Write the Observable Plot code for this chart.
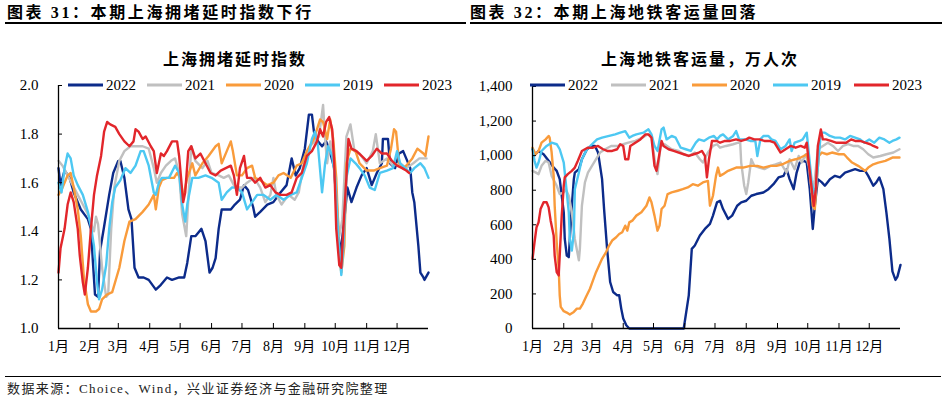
<!DOCTYPE html>
<html><head><meta charset="utf-8">
<script src="https://cdn.jsdelivr.net/npm/d3@7"></script>
<script src="https://cdn.jsdelivr.net/npm/@observablehq/plot@0.6"></script>
<style>
body{margin:0;background:#fff;}
#wrap{position:relative;width:946px;height:398px;overflow:hidden;background:#fff;color:#000;font-family:"Liberation Serif","Noto Sans CJK SC",serif;}
.abs{position:absolute;white-space:nowrap;}
.title{font-weight:bold;font-size:16px;line-height:16px;letter-spacing:2.6px;}
.sub{font-weight:bold;font-size:16px;line-height:16px;letter-spacing:2px;transform:translateX(-50%);}
.rule{position:absolute;background:#000;}
.legend{position:absolute;display:flex;align-items:center;font-size:15px;line-height:15px;transform:translateY(-50%);}
.legend .it{display:flex;align-items:center;}
.legend .sw{width:35px;height:3px;margin-right:3px;}
.foot{font-size:13px;line-height:13px;letter-spacing:1.4px;color:#222;}
</style></head><body><div id="wrap">
<div class="abs title" style="left:7px;top:5px;">图表 31：本期上海拥堵延时指数下行</div>
<div class="abs title" style="left:470px;top:5px;">图表 32：本期上海地铁客运量回落</div>
<div class="rule" style="left:5px;top:22px;width:461px;height:1.5px;"></div>
<div class="rule" style="left:470px;top:22px;width:472px;height:1.5px;"></div>
<div class="abs sub" style="left:235px;top:52px;">上海拥堵延时指数</div>
<div class="abs sub" style="left:700px;top:52px;">上海地铁客运量，万人次</div>
<div id="c1" class="abs" style="left:0;top:70px;"></div>
<div id="c2" class="abs" style="left:470px;top:70px;"></div>
<div id="lg1" class="legend" style="left:68px;top:85px;"></div>
<div id="lg2" class="legend" style="left:530px;top:85px;"></div>
<div class="rule" style="left:5px;top:376px;width:936px;height:1px;"></div>
<div class="abs foot" style="left:7px;top:382px;">数据来源：Choice、Wind，兴业证券经济与金融研究院整理</div>
</div>
<script>
const monthTicks = [1,32,60,91,121,152,182,213,244,274,305,335];
const monthLabels = ["1月","2月","3月","4月","5月","6月","7月","8月","9月","10月","11月","12月"];
const yearNames = ["2022","2021","2020","2019","2023"];
const yearColors = ["#0c2b8a","#c0c0c0","#f99b3b","#4dc8f2","#e2262b"];
const congTicks = [1.0,1.2,1.4,1.6,1.8,2.0];
const metroTicks = [0,200,400,600,800,1000,1200,1400];

// 上海拥堵延时指数 [day of year, value]
const cong2022 = [[1,1.66],[3,1.59],[7,1.65],[12,1.62],[16,1.56],[23,1.49],[30,1.45],[33,1.41],[35,1.27],[37,1.14],[40,1.13],[42,1.32],[46,1.42],[51,1.55],[55,1.64],[60,1.69],[62,1.69],[66,1.62],[70,1.49],[73,1.45],[76,1.25],[80,1.21],[85,1.21],[90,1.20],[97,1.16],[102,1.18],[108,1.21],[113,1.20],[120,1.21],[125,1.21],[128,1.27],[132,1.38],[136,1.38],[142,1.41],[146,1.36],[150,1.23],[153,1.25],[156,1.29],[159,1.41],[162,1.49],[166,1.49],[171,1.49],[175,1.51],[180,1.53],[184,1.59],[188,1.57],[193,1.50],[195,1.46],[200,1.48],[207,1.51],[213,1.52],[220,1.56],[226,1.59],[231,1.70],[235,1.63],[239,1.66],[244,1.74],[248,1.88],[251,1.88],[253,1.81],[257,1.77],[261,1.75],[265,1.77],[268,1.74],[273,1.66],[276,1.45],[279,1.30],[283,1.45],[286,1.58],[290,1.52],[295,1.58],[300,1.63],[305,1.66],[310,1.59],[315,1.64],[320,1.68],[321,1.78],[326,1.78],[328,1.68],[333,1.66],[337,1.72],[341,1.73],[344,1.70],[348,1.66],[350,1.56],[352,1.52],[356,1.34],[358,1.23],[361,1.21],[362,1.20],[366,1.23]];
const cong2021 = [[1,1.69],[5,1.67],[10,1.63],[15,1.59],[20,1.55],[25,1.51],[30,1.47],[34,1.42],[36,1.40],[38,1.46],[40,1.43],[44,1.25],[48,1.13],[50,1.14],[53,1.41],[56,1.58],[61,1.69],[66,1.73],[72,1.75],[77,1.75],[84,1.75],[90,1.74],[95,1.66],[98,1.60],[102,1.64],[107,1.67],[112,1.69],[116,1.70],[120,1.64],[123,1.47],[127,1.38],[130,1.60],[132,1.75],[136,1.69],[143,1.66],[148,1.69],[152,1.64],[159,1.63],[164,1.62],[169,1.63],[174,1.59],[179,1.58],[182,1.58],[187,1.60],[194,1.62],[200,1.58],[205,1.52],[210,1.55],[213,1.62],[216,1.55],[221,1.51],[228,1.55],[234,1.53],[238,1.56],[243,1.68],[249,1.75],[254,1.77],[258,1.79],[262,1.92],[264,1.78],[266,1.68],[269,1.77],[272,1.70],[275,1.55],[278,1.38],[281,1.45],[285,1.79],[289,1.84],[293,1.73],[298,1.72],[305,1.68],[311,1.73],[314,1.80],[318,1.68],[325,1.70],[331,1.67],[338,1.68],[344,1.66],[351,1.68],[357,1.70],[364,1.70]];
const cong2020 = [[1,1.55],[5,1.58],[10,1.63],[13,1.64],[16,1.58],[20,1.49],[23,1.38],[26,1.21],[30,1.10],[33,1.07],[38,1.07],[41,1.08],[44,1.12],[49,1.14],[54,1.15],[61,1.25],[66,1.36],[71,1.44],[77,1.45],[84,1.48],[90,1.51],[95,1.55],[97,1.49],[100,1.58],[103,1.61],[108,1.62],[115,1.62],[118,1.64],[121,1.62],[123,1.52],[128,1.62],[133,1.68],[136,1.63],[143,1.68],[149,1.71],[156,1.75],[159,1.76],[162,1.68],[167,1.73],[171,1.77],[173,1.73],[177,1.63],[182,1.63],[187,1.66],[192,1.67],[195,1.62],[200,1.61],[207,1.59],[213,1.60],[218,1.63],[223,1.64],[230,1.62],[236,1.67],[241,1.68],[246,1.73],[253,1.78],[259,1.86],[262,1.85],[266,1.78],[269,1.86],[272,1.78],[275,1.62],[278,1.30],[280,1.23],[283,1.34],[285,1.68],[289,1.74],[294,1.73],[298,1.68],[305,1.65],[312,1.65],[318,1.66],[325,1.67],[329,1.74],[332,1.82],[334,1.81],[337,1.68],[341,1.66],[344,1.67],[350,1.70],[355,1.74],[361,1.72],[363,1.71],[366,1.79]];
const cong2019 = [[1,1.60],[4,1.56],[7,1.66],[10,1.72],[13,1.70],[16,1.63],[20,1.59],[25,1.55],[30,1.48],[33,1.42],[36,1.34],[39,1.19],[41,1.12],[44,1.16],[48,1.26],[51,1.41],[54,1.52],[57,1.58],[62,1.61],[67,1.66],[72,1.64],[77,1.67],[82,1.73],[85,1.73],[90,1.67],[95,1.56],[97,1.55],[100,1.60],[103,1.62],[110,1.62],[116,1.67],[120,1.64],[123,1.51],[126,1.44],[128,1.51],[133,1.62],[139,1.62],[146,1.63],[152,1.62],[159,1.60],[162,1.53],[167,1.56],[172,1.58],[177,1.58],[182,1.56],[187,1.49],[192,1.52],[197,1.55],[203,1.55],[210,1.53],[216,1.55],[223,1.53],[230,1.55],[236,1.56],[241,1.62],[246,1.68],[251,1.78],[254,1.81],[257,1.75],[261,1.56],[264,1.68],[267,1.75],[271,1.71],[274,1.62],[277,1.38],[280,1.22],[282,1.34],[285,1.62],[289,1.70],[294,1.68],[298,1.66],[303,1.63],[308,1.58],[313,1.57],[318,1.64],[325,1.65],[331,1.66],[335,1.73],[338,1.68],[343,1.66],[348,1.64],[352,1.66],[358,1.68],[362,1.66],[366,1.62]];
const cong2023 = [[1,1.23],[3,1.33],[7,1.41],[10,1.51],[13,1.56],[16,1.52],[20,1.41],[22,1.30],[25,1.19],[27,1.14],[30,1.25],[33,1.41],[36,1.55],[39,1.63],[43,1.71],[46,1.81],[49,1.85],[52,1.84],[57,1.83],[61,1.80],[66,1.77],[71,1.75],[75,1.77],[77,1.82],[80,1.81],[84,1.78],[87,1.79],[92,1.75],[95,1.73],[98,1.64],[102,1.72],[105,1.71],[108,1.73],[113,1.77],[118,1.77],[120,1.71],[124,1.52],[126,1.56],[129,1.73],[132,1.75],[136,1.70],[141,1.72],[146,1.68],[151,1.64],[156,1.63],[161,1.65],[166,1.66],[171,1.67],[174,1.63],[177,1.55],[180,1.66],[184,1.71],[187,1.62],[191,1.62],[195,1.60],[200,1.62],[205,1.58],[210,1.59],[215,1.56],[220,1.55],[226,1.55],[231,1.56],[236,1.62],[241,1.64],[246,1.71],[251,1.73],[256,1.77],[259,1.82],[262,1.79],[265,1.85],[268,1.87],[271,1.82],[273,1.68],[275,1.41],[278,1.26],[280,1.25],[282,1.41],[285,1.62],[287,1.78],[290,1.74],[295,1.73],[300,1.71],[305,1.69],[310,1.71],[315,1.74],[320,1.72],[325,1.72],[330,1.69],[335,1.67],[340,1.66],[344,1.65],[347,1.64]];

// 上海地铁客运量，万人次 [day of year, value]
const metro2022 = [[1,1037],[4,1008],[7,1027],[12,1008],[17,970],[22,931],[25,912],[28,864],[30,768],[32,672],[33,518],[35,422],[37,413],[38,518],[40,710],[42,864],[43,902],[47,922],[50,979],[55,1037],[60,1056],[63,1056],[66,1018],[70,864],[72,691],[75,461],[78,269],[81,211],[85,192],[87,192],[89,115],[91,58],[94,19],[97,0],[151,0],[154,115],[156,192],[159,461],[162,480],[167,538],[172,576],[177,605],[180,653],[184,730],[187,739],[190,691],[195,634],[199,653],[204,710],[208,730],[213,739],[218,768],[223,778],[230,787],[235,806],[240,835],[245,874],[250,883],[253,922],[256,864],[260,806],[263,902],[266,960],[270,970],[273,960],[276,806],[279,576],[281,710],[284,864],[288,845],[291,826],[296,864],[301,883],[306,874],[311,902],[316,912],[321,922],[326,912],[331,912],[334,883],[339,826],[342,845],[345,874],[349,806],[352,672],[355,518],[358,330],[361,281],[363,300],[366,368]];
const metro2021 = [[1,912],[4,903],[7,893],[10,941],[14,970],[17,960],[20,883],[25,826],[28,778],[32,787],[34,806],[37,768],[40,672],[43,518],[47,394],[48,461],[50,710],[53,845],[56,902],[60,941],[63,970],[68,1018],[73,1037],[79,1056],[86,1056],[91,1066],[96,1075],[103,1085],[110,1104],[115,1123],[119,1114],[123,941],[125,893],[128,1056],[132,1066],[139,1037],[146,1027],[151,1008],[156,998],[162,1018],[167,979],[170,960],[175,1018],[180,1056],[184,1066],[187,1046],[193,1056],[200,1066],[205,1075],[207,1075],[208,960],[211,826],[213,778],[215,845],[218,979],[221,941],[226,931],[231,922],[237,941],[242,950],[247,960],[250,931],[253,902],[256,979],[261,922],[265,998],[268,960],[272,1008],[275,941],[278,787],[281,864],[284,1037],[289,1056],[294,1075],[299,1056],[304,1027],[309,1056],[314,1066],[319,1056],[324,1056],[329,1037],[334,1008],[339,989],[346,998],[352,1008],[359,1018],[365,1037]];
const metro2020 = [[1,1046],[4,1008],[7,1027],[10,1075],[14,1094],[17,1114],[18,1104],[20,1018],[22,883],[23,710],[25,499],[27,346],[28,192],[29,125],[32,100],[35,92],[38,81],[42,96],[45,115],[48,115],[51,144],[54,182],[58,230],[61,278],[64,326],[67,365],[70,403],[74,442],[77,480],[80,509],[84,528],[87,547],[90,557],[93,595],[95,566],[97,614],[100,624],[104,653],[109,672],[114,710],[117,758],[119,730],[122,653],[125,566],[127,595],[129,691],[132,710],[135,778],[139,787],[145,797],[150,806],[155,816],[160,835],[165,826],[170,845],[175,854],[177,710],[180,768],[183,883],[185,931],[187,883],[190,893],[195,912],[203,931],[210,931],[217,941],[224,941],[230,931],[237,941],[243,941],[249,950],[256,970],[262,979],[267,989],[270,998],[273,1008],[276,931],[279,710],[281,691],[283,864],[285,998],[288,1018],[293,1008],[298,1018],[305,1008],[310,1008],[313,989],[318,960],[324,941],[331,912],[334,931],[339,950],[344,960],[351,970],[358,989],[365,989]];
const metro2019 = [[1,1037],[3,970],[5,931],[7,960],[10,1027],[15,1056],[20,1075],[25,1066],[28,1037],[32,960],[35,787],[37,672],[38,518],[40,451],[42,557],[43,806],[47,902],[50,979],[55,1037],[60,1066],[65,1094],[70,1104],[77,1114],[83,1123],[88,1133],[93,1142],[97,1104],[100,1114],[104,1123],[111,1133],[116,1152],[119,1123],[122,1056],[125,1027],[129,1152],[131,1162],[134,1094],[139,1114],[143,1104],[148,1046],[153,1037],[158,1027],[163,1075],[166,1094],[171,1085],[176,1104],[181,1114],[184,1094],[187,1114],[190,1123],[195,1094],[200,1114],[203,1142],[206,1094],[212,1094],[217,1085],[222,1085],[224,998],[227,1094],[230,1114],[235,1114],[238,1094],[242,1085],[247,1037],[252,1056],[256,1094],[258,1027],[261,1075],[266,1085],[269,1094],[273,1133],[275,1018],[278,845],[281,768],[283,864],[287,1133],[291,1133],[296,1114],[301,1104],[306,1104],[311,1094],[316,1114],[321,1104],[326,1094],[330,1075],[335,1094],[340,1075],[345,1104],[350,1094],[355,1075],[358,1085],[362,1094],[365,1104]];
const metro2023 = [[1,403],[3,499],[5,586],[7,614],[9,691],[12,730],[15,730],[17,701],[19,624],[22,538],[23,422],[25,326],[27,307],[28,422],[30,653],[32,826],[33,874],[36,893],[40,912],[43,931],[46,970],[50,1027],[53,1037],[56,1046],[61,1046],[66,1056],[71,1037],[75,1027],[80,1027],[85,1037],[88,1066],[91,1056],[93,979],[96,979],[98,1056],[103,1075],[108,1094],[113,1123],[116,1123],[119,1104],[122,941],[124,912],[126,979],[129,1085],[131,1056],[136,1037],[141,1027],[146,1018],[151,1008],[156,998],[161,1008],[166,1018],[169,1027],[172,998],[174,874],[176,979],[179,1085],[184,1085],[187,1075],[192,1085],[197,1085],[203,1094],[208,1085],[213,1094],[216,1104],[221,1094],[226,1094],[231,1085],[236,1085],[241,1075],[247,1018],[252,1037],[257,1056],[262,1046],[267,1056],[271,1046],[273,1075],[275,960],[278,806],[280,710],[282,806],[284,1056],[287,1152],[289,1094],[292,1094],[297,1085],[302,1075],[307,1075],[312,1075],[317,1094],[321,1085],[326,1085],[331,1075],[336,1066],[339,1056],[343,1046]];

const xDomain = [1, 366];
const FONT = '"Liberation Serif","Noto Sans CJK SC",serif';

function makeChart({series, yDomain, yTicks, yFormat, width, height, marginLeft, marginRight, marginTop, marginBottom}) {
  const rows = [];
  series.forEach((arr, i) => arr.forEach(([d, v]) => rows.push({year: yearNames[i], day: d, value: v})));
  return Plot.plot({
    width, height, marginLeft, marginRight, marginTop, marginBottom,
    style: {fontFamily: FONT, fontSize: "15px", color: "#000", background: "transparent", overflow: "visible"},
    x: {domain: xDomain, label: null},
    y: {domain: yDomain, label: null},
    color: {domain: yearNames, range: yearColors},
    marks: [
      Plot.line(rows, {x: "day", y: "value", z: "year", stroke: "year", strokeWidth: 2.4, strokeLinejoin: "round"}),
      Plot.ruleY([yDomain[0]], {stroke: "#000", strokeWidth: 1.3}),
      Plot.ruleX([xDomain[0]], {stroke: "#000", strokeWidth: 1.3}),
      Plot.axisY(yTicks, {tickSize: 4, dx: 4, tickFormat: () => "", stroke: "#000", label: null}),
      Plot.axisY(yTicks, {tickSize: 0, tickPadding: 20, tickFormat: yFormat, fontSize: 15, fill: "#000", label: null}),
      Plot.axisX(monthTicks, {tickSize: 5, dy: -5, tickFormat: () => "", stroke: "#000", label: null}),
      Plot.axisX(monthTicks, {tickSize: 0, tickPadding: 13, tickFormat: d => monthLabels[monthTicks.indexOf(d)], fontSize: 14, fill: "#000", label: null})
    ]
  });
}

document.getElementById("c1").appendChild(makeChart({
  series: [cong2022, cong2021, cong2020, cong2019, cong2023],
  yDomain: [1.0, 2.0], yTicks: congTicks, yFormat: d => d.toFixed(1),
  width: 470, height: 300, marginLeft: 58, marginRight: 42, marginTop: 15, marginBottom: 42
}));
document.getElementById("c2").appendChild(makeChart({
  series: [metro2022, metro2021, metro2020, metro2019, metro2023],
  yDomain: [0, 1400], yTicks: metroTicks, yFormat: d3.format(","),
  width: 476, height: 300, marginLeft: 62, marginRight: 46, marginTop: 16, marginBottom: 42
}));

function legend(id, gap) {
  const el = document.getElementById(id);
  yearNames.forEach((name, i) => {
    const it = document.createElement("div");
    it.className = "it";
    it.style.marginRight = gap + "px";
    const sw = document.createElement("div");
    sw.className = "sw";
    sw.style.background = yearColors[i];
    const tx = document.createElement("span");
    tx.textContent = name;
    it.appendChild(sw); it.appendChild(tx);
    el.appendChild(it);
  });
}
legend("lg1", 11);
legend("lg2", 13);
</script>
</body></html>
